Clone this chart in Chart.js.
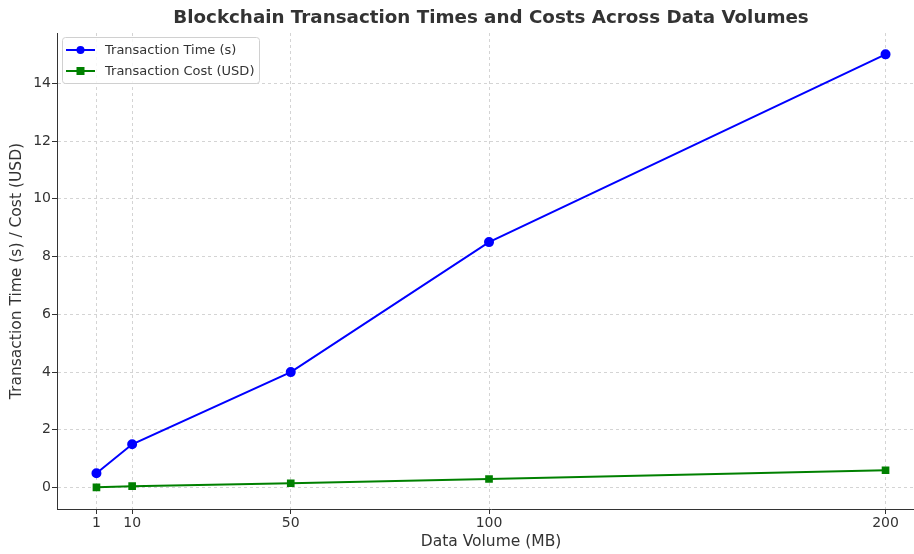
<!DOCTYPE html>
<html><head><meta charset="utf-8">
<script src="https://cdn.jsdelivr.net/npm/chart.js@4"></script>
<style>html,body{margin:0;padding:0;background:#fff;overflow:hidden}#wrap{width:914px;height:554px;overflow:hidden}</style>
</head><body><div id="wrap"><canvas id="c" width="926" height="554"></canvas></div>
<script>
const dataVolumes = [1, 10, 50, 100, 200];
const transactionTime = [0.5, 1.5, 4, 8.5, 15];
const transactionCost = [0.01, 0.05, 0.15, 0.3, 0.6];
const xTickValues = [1, 10, 50, 100, 200];
const yTickValues = [0, 2, 4, 6, 8, 10, 12, 14];
const chartTitle = 'Blockchain Transaction Times and Costs Across Data Volumes';
const xTitle = 'Data Volume (MB)';
const yTitle = 'Transaction Time (s) / Cost (USD)';
const seriesLabels = ['Transaction Time (s)', 'Transaction Cost (USD)'];

const FONT = "'DejaVu Sans', sans-serif";
const toPts = ys => dataVolumes.map((x, i) => ({x, y: ys[i]}));

const titlePlugin = {
  id: 'ctitle',
  afterDraw(chart) {
    const {ctx, chartArea} = chart;
    ctx.save();
    ctx.font = "bold 18.3px " + FONT;
    ctx.fillStyle = '#333333';
    ctx.textAlign = 'center';
    ctx.textBaseline = 'middle';
    ctx.fillText(chartTitle, (chartArea.left + chartArea.right) / 2, 18);
    ctx.restore();
  }
};

const legendPlugin = {
  id: 'inlegend',
  afterDatasetsDraw(chart) {
    const {ctx, chartArea} = chart;
    const x0 = chartArea.left + 5, y0 = chartArea.top + 4;
    const w = 197, h = 46;
    ctx.save();
    ctx.beginPath();
    ctx.roundRect(x0 + 0.5, y0 + 0.5, w, h, 3);
    ctx.fillStyle = 'rgba(255,255,255,0.8)';
    ctx.fill();
    ctx.strokeStyle = '#d0d0d0';
    ctx.lineWidth = 1;
    ctx.stroke();
    ctx.font = "13px " + FONT;
    ctx.textBaseline = 'middle';
    chart.data.datasets.forEach((ds, i) => {
      const cy = y0 + 13 + i * 21;
      ctx.strokeStyle = ds.borderColor;
      ctx.lineWidth = 2;
      ctx.beginPath();
      ctx.moveTo(x0 + 4, cy);
      ctx.lineTo(x0 + 33, cy);
      ctx.stroke();
      ctx.fillStyle = ds.borderColor;
      if (ds.pointStyle === 'rect') {
        ctx.fillRect(x0 + 18.5 - 4, cy - 4, 8, 8);
      } else {
        ctx.beginPath();
        ctx.arc(x0 + 18.5, cy, 4, 0, Math.PI * 2);
        ctx.fill();
      }
      ctx.fillStyle = '#333333';
      ctx.fillText(ds.label, x0 + 43, cy + 1);
    });
    ctx.restore();
  }
};

new Chart(document.getElementById('c'), {
  type: 'line',
  data: {
    datasets: [
      {label: seriesLabels[0], data: toPts(transactionTime), borderColor: '#0000ff', backgroundColor: '#0000ff',
       borderWidth: 2, pointRadius: 4, pointStyle: 'circle', tension: 0, clip: false},
      {label: seriesLabels[1], data: toPts(transactionCost), borderColor: '#008000', backgroundColor: '#008000',
       borderWidth: 2, pointRadius: 4, pointStyle: 'rect', tension: 0, clip: false}
    ]
  },
  options: {
    responsive: false,
    animation: false,
    layout: {autoPadding: false, padding: {top: 33, right: 1, left: 0, bottom: 0}},
    plugins: {legend: {display: false}, title: {display: false}, tooltip: {enabled: false}},
    scales: {
      x: {
        type: 'linear', min: -8.95, max: 209.95,
        afterBuildTicks: s => { s.ticks = xTickValues.map(v => ({value: v})); },
        afterFit: s => { s.height = 45; s.paddingLeft = 0; s.paddingRight = 0; },
        ticks: {color: '#333333', font: {family: FONT, size: 14}, padding: 1, maxRotation: 0,
                callback: v => String(v)},
        grid: {color: '#d4d4d4', tickLength: 5, tickColor: '#333333'},
        border: {display: true, color: '#333333', width: 1, dash: [3, 3]},
        title: {display: true, text: xTitle, color: '#333333', font: {family: FONT, size: 15.5}, padding: {top: 0, bottom: 3}}
      },
      y: {
        type: 'linear', min: -0.74, max: 15.74,
        afterBuildTicks: s => { s.ticks = yTickValues.map(v => ({value: v})); },
        afterFit: s => { s.width = 57; },
        ticks: {color: '#333333', font: {family: FONT, size: 14}, padding: 1,
                callback: v => String(v)},
        grid: {color: '#d4d4d4', tickLength: 5, tickColor: '#333333'},
        border: {display: true, color: '#333333', width: 1, dash: [3, 3]},
        title: {display: true, text: yTitle, color: '#333333', font: {family: FONT, size: 15.5}, padding: {top: 8, bottom: 0}}
      }
    }
  },
  plugins: [titlePlugin, legendPlugin]
});
</script></body></html>
